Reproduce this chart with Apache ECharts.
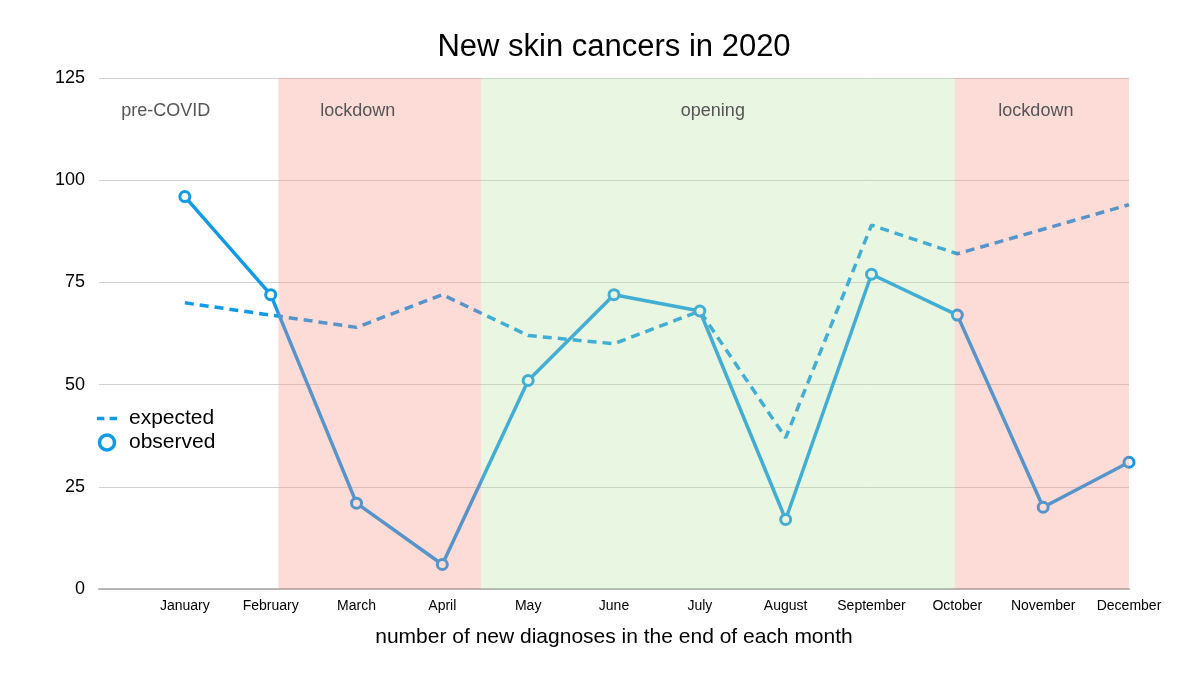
<!DOCTYPE html>
<html>
<head>
<meta charset="utf-8">
<script src="https://cdn.jsdelivr.net/npm/echarts@6/dist/echarts.min.js"></script>
<style>
html,body{margin:0;padding:0;background:#fff;}
#chart{width:1200px;height:675px;}
</style>
</head>
<body>
<div id="chart"></div>
<script>
var months = ['January','February','March','April','May','June','July','August','September','October','November','December'];
var expected = [70, 67, 64, 72, 62, 60, 68, 37, 89, 82, 88, 94];
var observed = [96, 72, 21, 6, 51, 72, 68, 17, 77, 67, 20, 31];
var yTicks = [0, 25, 50, 75, 100, 125];
var regionNames = ['pre-COVID', 'lockdown', 'opening', 'lockdown'];
var regionStart = [0, 2.09, 4.45, 9.97];
var regionEnd = [2.09, 4.45, 9.97, 12];
var regionColors = ['rgba(255,255,255,0)', 'rgba(248,138,125,0.3)', 'rgba(182,225,158,0.3)', 'rgba(248,138,125,0.3)'];
var regionLabelOffset = [-23, -22, -5, -6];

var blue = '#1199ea';
var chart = echarts.init(document.getElementById('chart'));

var areaData = regionNames.map(function (n, i) {
  return [
    { name: n, xAxis: regionStart[i], itemStyle: { color: regionColors[i] },
      label: { offset: [regionLabelOffset[i], 0] } },
    { xAxis: regionEnd[i] }
  ];
});

chart.setOption({
  animation: false,
  backgroundColor: '#fff',
  textStyle: { fontFamily: 'Liberation Sans, Arial, sans-serif' },
  title: {
    text: 'New skin cancers in 2020',
    left: 609,
    textAlign: 'center',
    top: 27,
    textStyle: { fontSize: 31, fontWeight: 'normal', color: '#000', fontFamily: 'Liberation Sans' }
  },
  legend: {
    orient: 'vertical',
    left: 92,
    top: 403,
    itemWidth: 20,
    itemHeight: 15,
    itemGap: 3,
    data: [
      { name: 'expected', icon: 'path://M0,0h7v3.5h-7z M12,0h7v3.5h-7z' },
      { name: 'observed', icon: 'circle', itemStyle: { color: '#fff', borderColor: blue, borderWidth: 3.5 } }
    ],
    textStyle: { fontSize: 21, color: '#000', padding: [0, 0, 0, 7], fontFamily: 'Liberation Sans' }
  },
  grid: { left: 99, right: 71, top: 78, bottom: 86, containLabel: false },
  xAxis: {
    type: 'value',
    min: 0,
    max: 12,
    interval: 1,
    name: 'number of new diagnoses in the end of each month',
    nameLocation: 'middle',
    nameGap: 38,
    nameTextStyle: { fontSize: 21, color: '#000', fontFamily: 'Liberation Sans' },
    axisLine: { show: true, lineStyle: { color: '#b5b5b5', width: 2 } },
    axisTick: { show: false },
    splitLine: { show: false },
    axisLabel: {
      fontSize: 14, color: '#000', margin: 10,
      formatter: function (v) { return v >= 1 ? months[v - 1] : ''; }
    }
  },
  yAxis: {
    type: 'value',
    min: yTicks[0],
    max: yTicks[yTicks.length - 1],
    interval: yTicks[1] - yTicks[0],
    axisLine: { show: false },
    axisTick: { show: false },
    splitLine: { lineStyle: { color: '#d2d2d2', width: 1 } },
    axisLabel: { fontSize: 18, color: '#000', margin: 14 }
  },
  series: [
    {
      name: 'expected',
      type: 'line',
      symbol: 'none',
      data: expected.map(function (v, i) { return [i + 1, v]; }),
      itemStyle: { color: blue },
      lineStyle: { color: blue, width: 3.5, type: [9, 6] },
      z: 2
    },
    {
      name: 'observed',
      type: 'line',
      symbol: 'circle',
      symbolSize: 10,
      showAllSymbol: true,
      data: observed.map(function (v, i) { return [i + 1, v]; }),
      itemStyle: { color: '#fff', borderColor: blue, borderWidth: 3 },
      lineStyle: { color: blue, width: 3.5 },
      z: 3,
      markArea: {
        z: 10,
        silent: true,
        label: {
          show: true,
          position: 'insideTop',
          distance: 24,
          fontSize: 18,
          color: '#555',
          fontFamily: 'Liberation Sans'
        },
        data: areaData
      }
    }
  ]
});
</script>
</body>
</html>
